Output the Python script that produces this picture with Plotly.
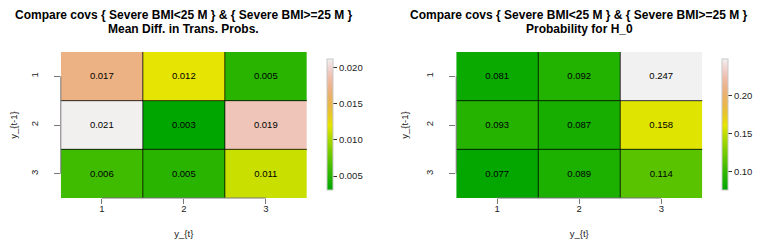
import colorsys
import numpy as np
import plotly.graph_objects as go

# ---------------- data ----------------
x_cats = [1, 2, 3]
y_cats = [1, 2, 3]
mean_diff = [
    [0.017, 0.012, 0.005],
    [0.021, 0.003, 0.019],
    [0.006, 0.005, 0.011],
]
prob_h0 = [
    [0.081, 0.092, 0.247],
    [0.093, 0.087, 0.158],
    [0.077, 0.089, 0.114],
]
range_left = [0.0030, 0.0211]
range_right = [0.0755, 0.2472]
title_main = "Compare covs { Severe BMI<25 M } & { Severe BMI>=25 M }"
sub_left = "Mean Diff. in Trans. Probs."
sub_right = "Probability for H_0"
xlab = "y_{t}"
ylab = "y_{t-1}"

# ---------------- terrain.colors colorscale (R) ----------------
def terrain(n):
    k = n // 2
    h = np.concatenate([np.linspace(4 / 12, 2 / 12, k), np.linspace(2 / 12, 0, n - k + 1)[1:]])
    s = np.concatenate([np.linspace(1, 1, k), np.linspace(1, 0, n - k + 1)[1:]])
    v = np.concatenate([np.linspace(0.65, 0.9, k), np.linspace(0.9, 0.95, n - k + 1)[1:]])
    out = []
    for i in range(n):
        r, g, b = colorsys.hsv_to_rgb(h[i], s[i], v[i])
        out.append([i / (n - 1), f"rgb({round(r*255)},{round(g*255)},{round(b*255)})"])
    return out

cscale = terrain(64)

W, H = 764, 243
FONT = "Liberation Sans, Arial, sans-serif"

fig = go.Figure()

panels = [
    dict(z=mean_diff, rng=range_left, cfmt=".3f", dt=0.005, t0=0.005, xa="x", ya="y",
         dom=[50, 297], cbx=325, sub=sub_left),
    dict(z=prob_h0, rng=range_right, cfmt=".2f", dt=0.05, t0=0.10, xa="x2", ya="y2",
         dom=[447, 694], cbx=722, sub=sub_right),
]

ydom = [1 - 190 / H, 1 - 44 / H]
shapes = []
annotations = []
for i, p in enumerate(panels):
    fig.add_trace(go.Heatmap(
        z=p["z"], x=x_cats, y=y_cats, xaxis=p["xa"], yaxis=p["ya"],
        colorscale=cscale, zmin=p["rng"][0], zmax=p["rng"][1],
        texttemplate="%{z:.3f}",
        textfont=dict(family=FONT, size=9.5, color="black"),
        hoverinfo="skip",
        colorbar=dict(
            x=(p["cbx"] - 8) / W, xanchor="left", xpad=0,
            y=1 - 117 / H, yanchor="middle", len=131 / H, lenmode="fraction", ypad=0,
            thickness=6, outlinewidth=1, outlinecolor="#c8c8c8",
            ticks="outside", ticklen=4, tickcolor="#333333", tickwidth=1,
            tick0=p["t0"], dtick=p["dt"], tickformat=p["cfmt"],
            tickfont=dict(family=FONT, size=9.5, color="#222222"),
        ),
    ))
    sfx = "" if i == 0 else "2"
    xa_name = "xaxis" + sfx
    ya_name = "yaxis" + sfx
    fig.update_layout(**{
        xa_name: dict(domain=[p["dom"][0] / W, p["dom"][1] / W], range=[0.5, 3.5],
                      tickvals=x_cats, ticks="outside", ticklen=5, tickcolor="#777777",
                      ticklabelstandoff=-3,
                      showgrid=False, zeroline=False, showline=False, anchor=p["ya"],
                      tickfont=dict(family=FONT, size=9.5, color="#222222"),
                      title=dict(text=xlab, font=dict(family=FONT, size=9.5, color="#222222"), standoff=16)),
        ya_name: dict(domain=ydom, range=[3.5, 0.5], tickvals=y_cats, ticks="outside",
                      ticklen=6, tickcolor="#777777", tickangle=-90, ticklabelstandoff=12,
                      showgrid=False, zeroline=False, showline=False, anchor=p["xa"],
                      tickfont=dict(family=FONT, size=9.5, color="#222222"),
                      title=dict(text=ylab, font=dict(family=FONT, size=9.5, color="#222222"), standoff=14)),
    })
    # internal cell borders
    for k in range(len(x_cats) - 1):
        xv = (x_cats[k] + x_cats[k + 1]) / 2
        shapes.append(dict(type="line", xref=p["xa"], yref=p["ya"] + " domain", x0=xv, x1=xv,
                           y0=0, y1=1, line=dict(color="rgba(0,0,0,0.8)", width=1)))
    for k in range(len(y_cats) - 1):
        yv = (y_cats[k] + y_cats[k + 1]) / 2
        shapes.append(dict(type="line", xref=p["xa"] + " domain", yref=p["ya"], x0=0, x1=1,
                           y0=yv, y1=yv, line=dict(color="rgba(0,0,0,0.8)", width=1)))
    # R-style axis lines spanning first to last tick
    shapes.append(dict(type="line", xref=p["xa"], yref=p["ya"] + " domain", x0=x_cats[0], x1=x_cats[-1],
                       y0=0, y1=0, line=dict(color="#777777", width=1)))
    shapes.append(dict(type="line", xref=p["xa"] + " domain", yref=p["ya"], x0=0, x1=0,
                       y0=y_cats[0], y1=y_cats[-1], line=dict(color="#777777", width=1)))
    cx = (p["dom"][0] + p["dom"][1]) / 2 / W
    annotations.append(dict(text="<b>" + title_main + "</b>", xref="paper", yref="paper",
                            x=cx, y=1 - 7 / H, xanchor="center", yanchor="middle", showarrow=False,
                            font=dict(family=FONT, size=12, color="black")))
    annotations.append(dict(text="<b>" + p["sub"] + "</b>", xref="paper", yref="paper",
                            x=cx, y=1 - 21.5 / H, xanchor="center", yanchor="middle", showarrow=False,
                            font=dict(family=FONT, size=12, color="black")))

fig.update_layout(
    width=W, height=H, margin=dict(l=0, r=0, t=0, b=0),
    paper_bgcolor="white", plot_bgcolor="white",
    shapes=shapes, annotations=annotations, showlegend=False,
)
fig.write_html("out.html")
